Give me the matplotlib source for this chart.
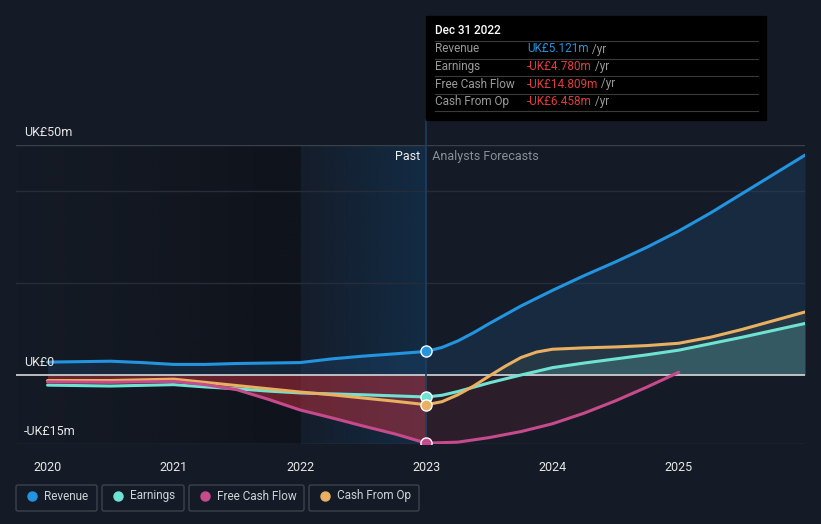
import numpy as np
import matplotlib.pyplot as plt
from matplotlib.patches import Rectangle, FancyBboxPatch
import matplotlib.transforms as mtransforms

plt.rcParams['font.family'] = ['Roboto', 'DejaVu Sans']

# data (UK£m)
rev_x = [2020.0, 2020.25, 2020.5, 2020.75, 2021.0, 2021.25, 2021.5, 2021.75, 2022.0, 2022.125, 2022.25, 2022.5, 2022.75, 2023.0,
         2023.125, 2023.25, 2023.375, 2023.5, 2023.75, 2024.0, 2024.25, 2024.5, 2024.75, 2025.0, 2025.25, 2025.5, 2025.75, 2026.0]
revenue = [2.8, 2.9, 3.0, 2.7, 2.3, 2.3, 2.5, 2.6, 2.7, 3.1, 3.5, 4.1, 4.6, 5.121,
           6.0, 7.4, 9.2, 11.2, 15.0, 18.4, 21.6, 24.6, 27.8, 31.3, 35.2, 39.4, 43.6, 47.8]

earn_x = [2020.0, 2020.5, 2021.0, 2021.25, 2021.5, 2021.75, 2022.0, 2022.5, 2023.0,
          2023.125, 2023.25, 2023.5, 2023.75, 2024.0, 2024.25, 2024.5, 2024.75, 2025.0, 2025.25, 2025.5, 2025.75, 2026.0]
earnings = [-2.2, -2.4, -2.1, -2.6, -3.0, -3.5, -3.9, -4.3, -4.78,
            -4.4, -3.6, -1.7, 0.0, 1.6, 2.6, 3.5, 4.4, 5.4, 6.8, 8.2, 9.7, 11.2]

cfo_x = [2020.0, 2020.5, 2021.0, 2021.25, 2021.5, 2021.75, 2022.0, 2022.25, 2022.5, 2022.75, 2023.0,
         2023.125, 2023.25, 2023.375, 2023.5, 2023.625, 2023.75, 2023.875, 2024.0, 2024.25, 2024.5, 2024.75,
         2025.0, 2025.25, 2025.5, 2025.75, 2026.0]
cash_from_op = [-1.2, -1.2, -0.9, -1.6, -2.3, -3.0, -3.7, -4.3, -5.0, -5.7, -6.458,
                -5.8, -4.3, -2.4, -0.2, 1.9, 3.8, 5.0, 5.6, 5.9, 6.1, 6.4,
                6.9, 8.2, 9.9, 11.8, 13.7]

fcf_x = [2020.0, 2020.5, 2021.0, 2021.25, 2021.5, 2021.75, 2022.0, 2022.25, 2022.5, 2022.75, 2023.0,
         2023.25, 2023.5, 2023.75, 2024.0, 2024.25, 2024.5, 2024.75, 2025.0]
free_cash_flow = [-1.5, -1.6, -1.4, -2.1, -3.2, -5.3, -7.6, -9.3, -11.1, -12.8, -14.809,
                  -14.6, -13.6, -12.3, -10.6, -8.3, -5.6, -2.6, 0.6]

years = [2020, 2021, 2022, 2023, 2024, 2025]
now = 2023.0

BG = '#151b26'
C_REV, C_EARN, C_FCF, C_CFO = '#2394df', '#6fe3d3', '#c64b8c', '#e8b060'

W, H = 821, 524
fig = plt.figure(figsize=(W / 100, H / 100), dpi=100, facecolor=BG)
ax = fig.add_axes([16 / W, (H - 444) / H, (805 - 16) / W, (444 - 145) / H])
ax.set_facecolor(BG)
for s in ax.spines.values():
    s.set_visible(False)
ax.tick_params(left=False, labelleft=False, bottom=False)


def grad_span(x0, x1, c, a0, a1):
    g = np.linspace(a0, a1, 256).reshape(1, -1)
    rgba = np.zeros((1, 256, 4))
    rgba[..., :3] = plt.matplotlib.colors.to_rgb(c)
    rgba[..., 3] = g
    ax.imshow(rgba, extent=[x0, x1, -15, 50], aspect='auto', zorder=0.5, interpolation='bilinear')


grad_span(2019.75, 2022.0, '#0b0e14', 0.0, 0.6)
grad_span(2022.0, now, '#12314f', 0.1, 0.75)
ax.set_xlim(2019.75, 2026.0)
ax.set_ylim(-15, 50)

# grid
ax.axhline(50, color='#3a404a', lw=1, zorder=1)
for g in [40, 20]:
    ax.axhline(g, color='#262d38', lw=1, zorder=1)
ax.axhline(-15, color='#3a404a', lw=1, zorder=1)

rx, ry = np.array(rev_x), np.array(revenue)
ex, ey = np.array(earn_x), np.array(earnings)
cx, cy = np.array(cfo_x), np.array(cash_from_op)
fx, fy = np.array(fcf_x), np.array(free_cash_flow)

# fills
ax.fill_between(rx, 0, ry, color='#1e4d7a', alpha=0.3, lw=0, zorder=1.5)
pm = fx <= now
ax.fill_between(fx[pm], fy[pm], 0, color='#c0303f', alpha=0.5, lw=0, zorder=1.6)
fm = fx >= now
ax.fill_between(fx[fm], np.minimum(fy[fm], 0), 0, color='#c0303f', alpha=0.13, lw=0, zorder=1.6)
em = ex >= now
ax.fill_between(ex[em], 0, np.maximum(ey[em], 0), color='#6fe3d3', alpha=0.2, lw=0, zorder=1.7)
cm = cx >= now
ax.fill_between(cx[cm], 0, np.maximum(cy[cm], 0), color='#9a9a80', alpha=0.12, lw=0, zorder=1.65)

ax.axhline(0, color='#d8d8d8', lw=1.2, zorder=2)

for xx, yy, c in [(rx, ry, C_REV), (ex, ey, C_EARN), (cx, cy, C_CFO), (fx, fy, C_FCF)]:
    ax.plot(xx, yy, color=c, lw=2.2, zorder=3, solid_capstyle='round', solid_joinstyle='round')
    ax.plot([now], [np.interp(now, xx, yy)], 'o', ms=8, mfc=c, mec='white', mew=1, zorder=4)

ax.axvline(now, color='#1f3d5a', lw=1.2, zorder=2.5)
ax.plot([now, now], [50, 50 + 25 / 4.6], color='#1f3d5a', lw=1.2, clip_on=False)

ax.set_xticks(years)
ax.set_xticklabels([str(y) for y in years], color='#e6e6e6', fontsize=9)
ax.tick_params(axis='x', pad=9)

lab = mtransforms.blended_transform_factory(ax.transAxes, ax.transData)
for v, t in [(50, 'UK£50m'), (0, 'UK£0'), (-15, '-UK£15m')]:
    ax.annotate(t, (8 / 789, v), xycoords=lab, xytext=(0, 4), textcoords='offset points',
                color='#e6e6e6', fontsize=9, va='bottom', ha='left')

ax.text(now, 47.5, 'Past  ', ha='right', va='center', color='#f0f0f0', fontsize=9)
ax.text(now, 47.5, '  Analysts Forecasts', ha='left', va='center', color='#8a8f98', fontsize=9)

# overlay in pixel coords for tooltip + legend
ov = fig.add_axes([0, 0, 1, 1], zorder=10)
ov.set_xlim(0, W)
ov.set_ylim(H, 0)
ov.axis('off')
ov.patch.set_alpha(0)

ov.add_patch(Rectangle((426, 16), 340, 104, color='#000000'))
ov.text(435, 31, 'Dec 31 2022', color='white', fontsize=8.5, va='center', fontweight='medium')
rows = [('Revenue', 'UK£5.121m', '#2394df'), ('Earnings', '-UK£4.780m', '#e03c3c'),
        ('Free Cash Flow', '-UK£14.809m', '#e03c3c'), ('Cash From Op', '-UK£6.458m', '#e03c3c')]
for i, (name, val, col) in enumerate(rows):
    y = 49 + i * 17.5
    ov.plot([435, 758], [y - 8, y - 8], color='#3a3a3a', lw=0.8)
    ov.text(435, y, name, color='#9a9a9a', fontsize=8.5, va='center')
    t = ov.text(527, y, val, color=col, fontsize=8.5, va='center')
    ov.annotate(' /yr', xy=(1, 0.5), xycoords=t, color='#9a9a9a', fontsize=8.5, va='center')
ov.plot([435, 758], [111, 111], color='#3a3a3a', lw=0.8)

legend = [('Revenue', C_REV, 16, 97), ('Earnings', C_EARN, 102, 184),
          ('Free Cash Flow', C_FCF, 189, 304), ('Cash From Op', C_CFO, 309, 419)]
for name, col, x0, x1 in legend:
    ov.add_patch(FancyBboxPatch((x0, 485), x1 - x0, 26, boxstyle='round,pad=0,rounding_size=2',
                                fc='none', ec='#3d424c', lw=1))
    ov.plot([x0 + 16], [496], 'o', ms=6.5, color=col)
    ov.text(x0 + 28, 496, name, color='#cfd2d6', fontsize=8.5, va='center')

fig.savefig('out.png', dpi=100, facecolor=BG)
